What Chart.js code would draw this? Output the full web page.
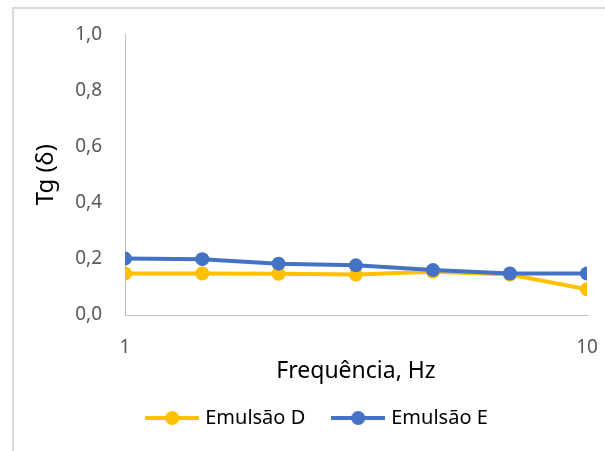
<!DOCTYPE html>
<html>
<head>
<meta charset="utf-8">
<script src="https://cdn.jsdelivr.net/npm/chart.js@4"></script>
<style>
    body { margin: 0; background: #fff; }
    #frame {
        position: absolute; left: 12px; top: 7px; right: 0; bottom: 0;
        border-left: 2px solid #d9d9d9; border-top: 2px solid #d9d9d9;
    }
    #myChart { position: absolute; left: 0; top: 0; }
</style>
</head>
<body>
<div id="frame"></div>
<canvas id="myChart" width="605" height="451"></canvas>
<script>
// frequência (Hz) e Tg(δ)
const freq = [1, 1.47, 2.15, 3.16, 4.64, 6.81, 10];
const emulsaoD = [0.148, 0.148, 0.147, 0.144, 0.154, 0.144, 0.092];
const emulsaoE = [0.201, 0.199, 0.183, 0.177, 0.160, 0.148, 0.148];
const xTicks = [1, 10];
const yTicks = [0, 0.2, 0.4, 0.6, 0.8, 1.0];

const amarelo = '#FFC000';
const azul = '#4472C4';
const fonte = '"Noto Sans", sans-serif';

// marcador da legenda: linha com círculo, como no Excel
function marcador(cor) {
    const c = document.createElement('canvas');
    c.width = 54;
    c.height = 16;
    const g = c.getContext('2d');
    g.strokeStyle = cor;
    g.lineWidth = 4;
    g.beginPath();
    g.moveTo(0, 8);
    g.lineTo(54, 8);
    g.stroke();
    g.fillStyle = cor;
    g.beginPath();
    g.arc(27, 8, 7, 0, Math.PI * 2);
    g.fill();
    return c;
}

const pontos = (ys) => freq.map((f, i) => ({x: f, y: ys[i]}));

new Chart(document.getElementById('myChart'), {
    type: 'line',
    data: {
        datasets: [{
            label: 'Emulsão D',
            data: pontos(emulsaoD),
            borderColor: amarelo,
            backgroundColor: amarelo,
            borderWidth: 4,
            pointRadius: 7,
            pointBorderWidth: 0,
            order: 1
        }, {
            label: 'Emulsão E',
            data: pontos(emulsaoE),
            borderColor: azul,
            backgroundColor: azul,
            borderWidth: 4,
            pointRadius: 7,
            pointBorderWidth: 0,
            order: 0
        }]
    },
    options: {
        responsive: false,
        animation: false,
        layout: {padding: {left: 50, right: 18, top: 33, bottom: 13}},
        plugins: {
            tooltip: {enabled: false},
            legend: {
                position: 'bottom',
                labels: {
                    usePointStyle: true,
                    pointStyleWidth: 46,
                    padding: 30,
                    color: '#000',
                    font: {family: fonte, size: 20},
                    sort: (a, b) => a.datasetIndex - b.datasetIndex,
                    generateLabels: (chart) => chart.data.datasets.map((ds, i) => ({
                        text: ds.label,
                        fillStyle: ds.borderColor,
                        strokeStyle: ds.borderColor,
                        lineWidth: 0,
                        pointStyle: marcador(ds.borderColor),
                        datasetIndex: i
                    }))
                }
            }
        },
        scales: {
            x: {
                type: 'logarithmic',
                min: 1,
                max: 10,
                afterBuildTicks: (s) => { s.ticks = xTicks.map(v => ({value: v})); },
                afterFit: (s) => { s.height = 63; s.paddingRight = 0; s.paddingLeft = 0; },
                grid: {drawOnChartArea: false, drawTicks: false},
                border: {display: true, color: '#bfbfbf', width: 1},
                ticks: {
                    padding: 21,
                    color: '#595959',
                    font: {family: fonte, size: 19},
                    callback: (v) => String(v)
                },
                title: {
                    display: true,
                    text: 'Frequência, Hz',
                    color: '#000',
                    font: {family: fonte, size: 23},
                    padding: {top: 0, bottom: -7}
                }
            },
            y: {
                min: 0,
                max: 1,
                afterBuildTicks: (s) => { s.ticks = yTicks.map(v => ({value: v})); },
                afterFit: (s) => { s.width = 75; },
                grid: {drawOnChartArea: false, drawTicks: false},
                border: {display: true, color: '#bfbfbf', width: 1},
                ticks: {
                    padding: 23,
                    color: '#595959',
                    font: {family: fonte, size: 19},
                    callback: (v) => v.toFixed(1).replace('.', ',')
                },
                title: {
                    display: true,
                    text: 'Tg (δ)',
                    color: '#000',
                    font: {family: fonte, size: 24},
                    padding: {top: -18, bottom: 0}
                }
            }
        }
    }
});
</script>
</body>
</html>
